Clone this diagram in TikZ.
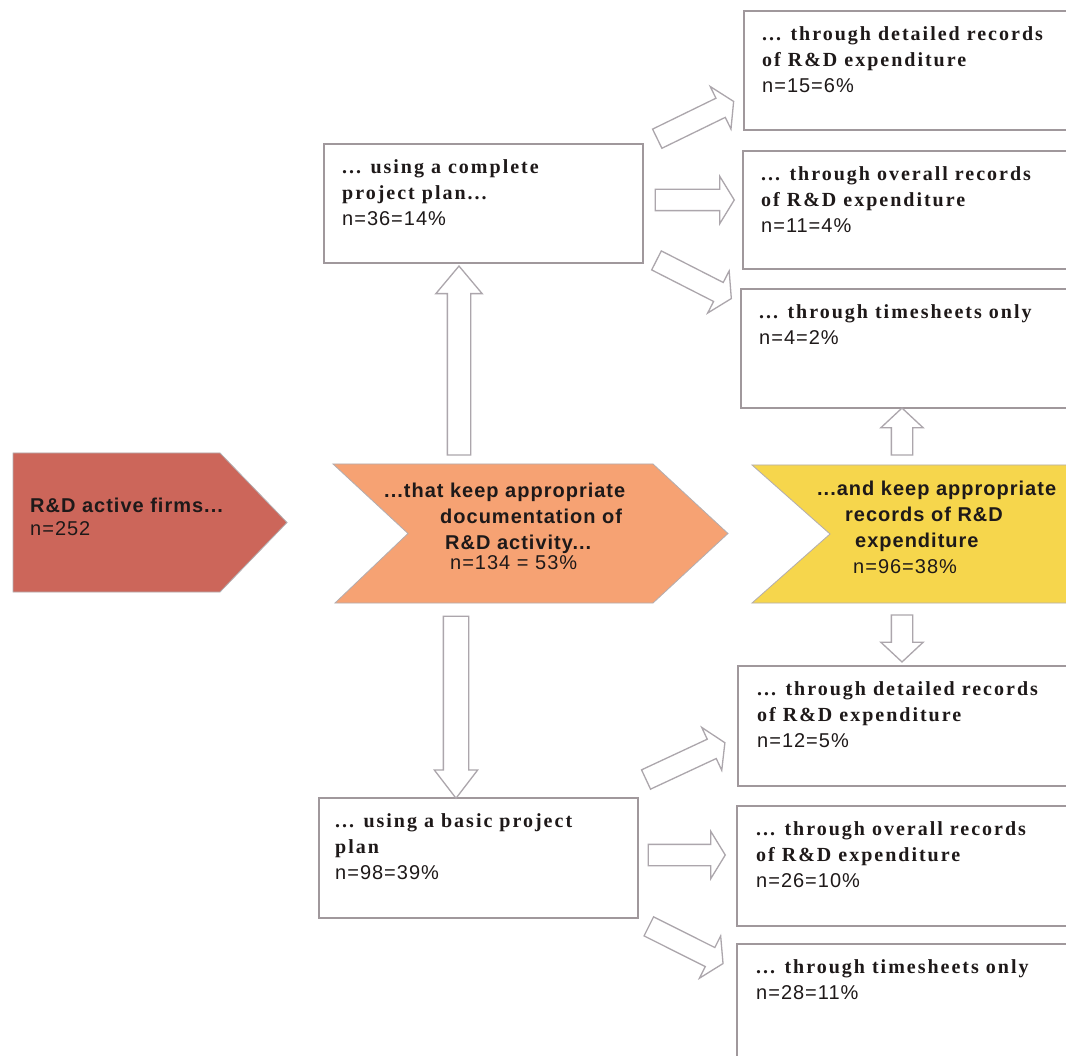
\documentclass[tikz,border=0pt]{standalone}
\usepackage{fontspec}
\usetikzlibrary{shapes.arrows}

\newfontfamily\headserif{Liberation Serif}[LetterSpace=10]
\newfontfamily\headsans{Liberation Sans}[LetterSpace=5]
\newcommand{\countline}[1]{{\headsans\mdseries #1}}

\definecolor{firmred}{RGB}{204,102,90}
\definecolor{docorange}{RGB}{246,162,115}
\definecolor{recyellow}{RGB}{246,214,76}
\definecolor{framegray}{RGB}{160,152,156}
\definecolor{arrowgray}{RGB}{172,166,172}
\definecolor{inkblack}{RGB}{30,25,25}

\begin{document}
\begin{tikzpicture}
  [x=1pt,y=1pt,
   box/.style={rectangle,draw=framegray,line width=1.6pt,fill=white,inner sep=0pt,
     minimum width=340pt,minimum height=119pt,anchor=north west},
   box text/.style={anchor=north west,inner sep=0pt,align=left,text=inkblack,
     font=\headserif\bfseries\fontsize{20}{26}\selectfont},
   chevron/.style={draw=framegray!80,line width=0.8pt},
   chevron text/.style={anchor=north west,inner sep=0pt,align=left,text=inkblack,
     font=\headsans\bfseries\fontsize{20}{26}\selectfont},
   fat arrow/.style={single arrow,draw=arrowgray,fill=white,line width=1.3pt,
     inner xsep=0pt,inner ysep=10pt,single arrow head extend=13pt,
     single arrow tip angle=117,minimum height=#1}]

  \path[use as bounding box,fill=white] (0,0) rectangle (1066,-1056);
  \clip (0,0) rectangle (1066,-1056);

  % boxes for the project plans
  \node[box,minimum width=319pt] (complete) at (323,-143) {};
  \node[box text] (completetext) at ([shift={(19pt,-16.5pt)}]complete.north west)
    {... using a complete\\project plan...\\\countline{n=36=14\%}};
  \node[box,minimum width=319pt,minimum height=120pt] (basic) at (318,-797) {};
  \node[box text] (basictext) at ([shift={(17pt,-16.5pt)}]basic.north west)
    {... using a basic project\\plan\\\countline{n=98=39\%}};

  % boxes for the records
  \node[box] (detailedup) at (743,-10) {};
  \node[box text] (detaileduptext) at ([shift={(19pt,-16.5pt)}]detailedup.north west)
    {... through detailed records\\of R\&D expenditure\\\countline{n=15=6\%}};
  \node[box,minimum height=118pt] (overallup) at (742,-150) {};
  \node[box text] (overalluptext) at ([shift={(19pt,-16.5pt)}]overallup.north west)
    {... through overall records\\of R\&D expenditure\\\countline{n=11=4\%}};
  \node[box] (timeup) at (740,-288) {};
  \node[box text] (timeuptext) at ([shift={(19pt,-16.5pt)}]timeup.north west)
    {... through timesheets only\\\countline{n=4=2\%}};

  \node[box,minimum height=120pt] (detaileddown) at (737,-665) {};
  \node[box text] (detaileddowntext) at ([shift={(20pt,-16.5pt)}]detaileddown.north west)
    {... through detailed records\\of R\&D expenditure\\\countline{n=12=5\%}};
  \node[box,minimum height=120pt] (overalldown) at (736,-805) {};
  \node[box text] (overalldowntext) at ([shift={(20pt,-16.5pt)}]overalldown.north west)
    {... through overall records\\of R\&D expenditure\\\countline{n=26=10\%}};
  \node[box,minimum height=125pt] (timedown) at (736,-943) {};
  \node[box text] (timedowntext) at ([shift={(20pt,-16.5pt)}]timedown.north west)
    {... through timesheets only\\\countline{n=28=11\%}};

  % block arrows
  \node[fat arrow=189pt,rotate=90,inner ysep=11pt,single arrow head extend=11.5pt,
        single arrow tip angle=80] (tocomplete) at (459,-367.5) {};
  \node[fat arrow=182pt,rotate=-90,inner ysep=12pt,single arrow head extend=9pt,
        single arrow tip angle=75] (tobasic) at (456,-699) {};
  \node[fat arrow=47pt,rotate=90,single arrow head extend=10.5pt,
        single arrow tip angle=94] (totimeup) at (902,-436.5) {};
  \node[fat arrow=47pt,rotate=-90,single arrow head extend=10.5pt,
        single arrow tip angle=94] (todetaileddown) at (902,-633.5) {};

  \node[fat arrow=85pt,rotate=26] (fanup1) at (692.5,-121.5) {};
  \node[fat arrow=79pt] (fanup2) at (691.5,-200) {};
  \node[fat arrow=84pt,rotate=-27] (fanup3) at (691,-278) {};
  \node[fat arrow=87pt,rotate=25] (fandown1) at (682.5,-762.5) {};
  \node[fat arrow=77pt] (fandown2) at (683.5,-855) {};
  \node[fat arrow=83pt,rotate=-26.6] (fandown3) at (683,-943.5) {};

  % chevrons
  \draw[chevron,fill=firmred] (13,-453) -- (220,-453) -- (287,-522.5)
    -- (220,-592) -- (13,-592) -- cycle;
  \node[chevron text] (firms) at (30,-498)
    {R\&D active firms...\\[-3pt]\countline{n=252}};

  \draw[chevron,fill=docorange] (333,-464) -- (653,-464) -- (728,-533.5)
    -- (653,-603) -- (335,-603) -- (408,-533.5) -- cycle;
  \node[chevron text] (documentation) at (440,-482.5)
    {\hspace*{-56pt}...that keep appropriate\\documentation of\\
     \hspace*{5pt}R\&D activity...\\[-6pt]\hspace*{10pt}\countline{n=134 = 53\%}};

  \draw[chevron,fill=recyellow] (752,-465) -- (1080,-465) -- (1080,-603)
    -- (752,-603) -- (830,-534) -- cycle;
  \node[chevron text] (records) at (845,-480.5)
    {\hspace*{-28pt}...and keep appropriate\\records of R\&D\\
     \hspace*{10pt}expenditure\\\hspace*{8pt}\countline{n=96=38\%}};

\end{tikzpicture}
\end{document}
